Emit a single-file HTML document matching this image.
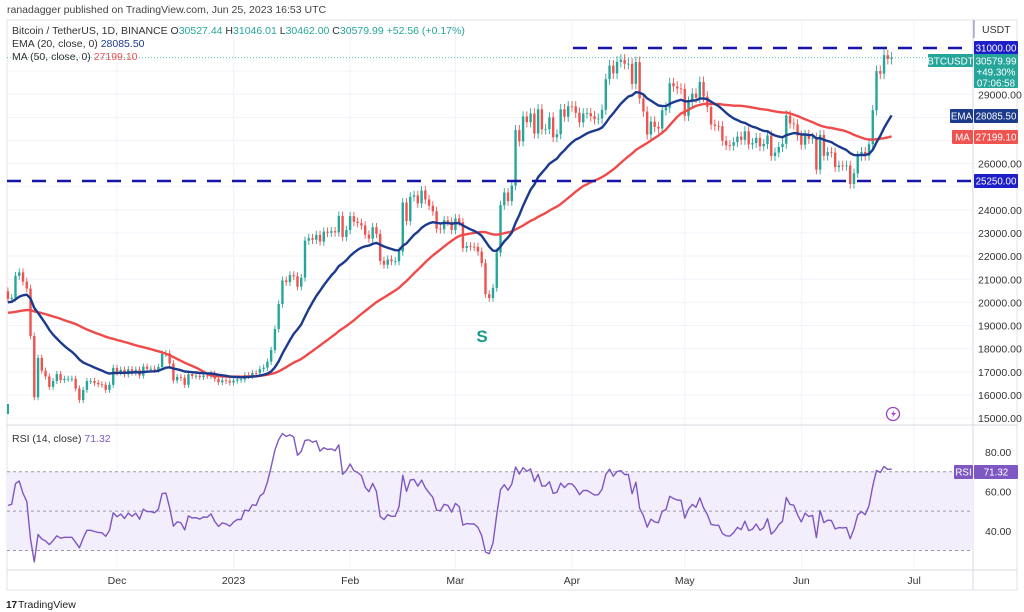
<!DOCTYPE html>
<html><head><meta charset="utf-8"><style>
html,body{margin:0;padding:0;background:#fff;width:1024px;height:612px;overflow:hidden;font-family:"Liberation Sans",sans-serif}
svg{position:absolute;left:0;top:0}
</style></head><body>
<svg id="c" width="1024" height="612" xmlns="http://www.w3.org/2000/svg"></svg>
<script>
const preCloses=[20230,19700,19800,20110,19420,19540,18880,18500,19400,18930,18800,18810,19220,19080,19410,19590,19430,
19310,19060,19630,20340,20160,19960,19530,19420,19450,19130,19060,19150,19380,19180,19070,19270,19550,19330,19120,19040,19160,19200,19570,19330,20090,20770,20290,20600,20810,20630,20490,20480];
const closes=[20150,20200,21150,21300,20900,20600,18550,15900,17600,17050,16800,16350,16600,16900,16650,16700,16700,16700,16280,15780,16220,16600,16600,16520,16460,16440,16220,16440,17170,
16980,17090,16890,17110,16970,17090,16840,17220,17130,17130,17090,17210,17780,17800,17360,16630,16780,16740,16440,16900,16820,16830,16780,16840,16830,16920,16700,16550,16630,16600,16540,
16620,16670,16670,16850,16830,16950,16940,17120,17180,17440,17940,18850,19930,20950,20880,21180,21130,20680,21070,22670,22780,22710,22920,22630,23060,23010,23080,23030,23740,22830,23130,
23730,23490,23430,23330,22930,22760,23250,22960,21800,21630,21860,21780,21780,22200,24320,23520,24570,24630,24280,24840,24450,24180,23940,23190,23160,23550,23490,23130,
23630,23470,22350,22430,22410,22400,22200,21700,20360,20190,20630,22160,24200,24750,24380,25050,27450,26960,28040,27790,28170,27300,28350,27480,27490,28000,27140,27270,28350,28030,28480,
28470,28200,27790,28170,28180,28050,27920,27950,28330,29650,30240,29900,30400,30490,30320,30320,29450,30390,28820,28250,27260,27820,27590,27520,28310,28420,29480,29340,29250,29230,
28070,28680,29030,28850,29530,28900,28450,27690,27630,27620,26990,26800,26780,26930,27170,27030,27400,26830,26890,27110,26750,26850,27220,26330,26480,26720,26860,28080,27740,27700,27210,
26820,27250,27070,27120,25740,27240,26340,26500,26480,25850,25920,25900,25920,25120,25580,26330,26510,26340,26840,28310,30000,29890,30690,30530,30580];
const priceTicks=[15000,16000,17000,18000,19000,20000,21000,22000,23000,24000,26000,29000];
const rsiTicks=[40,60,80];
const monthLabels=["Dec","2023","Feb","Mar","Apr","May","Jun","Jul"];
const monthDays=[29,60,91,119,150,180,211,241];

const NS="http://www.w3.org/2000/svg",svg=document.getElementById('c');
function el(t,a,p){const e=document.createElementNS(NS,t);for(const k in a)e.setAttribute(k,a[k]);(p||svg).appendChild(e);return e;}
function tx(s,x,y,a){const e=el('text',Object.assign({x:x,y:y,'font-size':11,fill:'#333','font-family':'Liberation Sans, sans-serif'},a||{}));e.textContent=s;return e;}
const X=i=>117+(i-29)*3.76;
const Y=p=>48+(31000-p)*0.02313;
const RY=r=>452+(80-r)*1.97;

let f=el('rect',{x:7,y:20,width:1010,height:570,fill:'none',stroke:'#e0e3eb'});

[15000,16000,17000,18000,19000,20000,21000,22000,23000,24000,25000,26000,27000,28000,29000,30000].forEach(p=>{const g=el('line',{x1:7,x2:973,y1:Y(p),y2:Y(p),stroke:'#f0f3fa'});});
monthDays.forEach(d=>{const g=el('line',{x1:X(d),x2:X(d),y1:20,y2:570,stroke:'#f0f3fa'});});
[['price-axis-border',973,20,973,590],['pane-divider',7,425,1017,425],['time-axis-border',7,570,1017,570]].forEach(l=>{const e=el('line',{x1:l[1],y1:l[2],x2:l[3],y2:l[4],stroke:'#d6d9e0'});});

let h=tx('ranadagger published on TradingView.com, Jun 25, 2023 16:53 UTC',7,13,{'font-size':10.5,fill:'#444'});


let band=el('rect',{x:7,y:RY(70),width:966,height:RY(30)-RY(70),fill:'#f3eefb'});

[70,50,30].forEach(v=>{const e=el('line',{x1:7,x2:973,y1:RY(v),y2:RY(v),stroke:'#9a9aa8','stroke-dasharray':'3,3'});});

const all=preCloses.concat(closes),off=preCloses.length;
const cg=el('g',{});
closes.forEach((c,i)=>{
  const o=all[off+i-1];const up=c>=o;const col=up?'#26a69a':'#ef5350';
  const hi=Math.max(o,c)*1.008,lo=Math.min(o,c)*0.992;const x=X(i);
  const w=el('line',{x1:x,x2:x,y1:Y(hi),y2:Y(lo),stroke:col,'stroke-width':0.9},cg);
  
  const b=el('rect',{x:x-1.2,y:Y(Math.max(o,c)),width:2.4,height:Math.max(0.8,Math.abs(Y(o)-Y(c))),fill:col},cg);
  
});

const k=2/21;let ema=all[0];const emaV=[],maV=[];
all.forEach((c,j)=>{ema=j==0?c:c*k+ema*(1-k);if(j>=off){emaV.push(ema);let s=0;for(let q=j-48;q<=j;q++)s+=all[Math.max(0,q)];maV.push(s/49);}});
function path(vals,fy,col,name,w){let d=vals.map((v,i)=>(i?'L':'M')+X(i).toFixed(1)+' '+fy(v).toFixed(1)).join(' ');const p=el('path',{d:d,fill:'none',stroke:col,'stroke-width':w,'stroke-linejoin':'round'});}
path(maV,Y,'#ef4b4b','ma50-line',2.4);
path(emaV,Y,'#1c3a8c','ema20-line',2.4);

let ag=0,al=0;const rsiV=[];
for(let j=1;j<all.length;j++){const d=all[j]-all[j-1];const g=Math.max(d,0),l=Math.max(-d,0);
 if(j<=14){ag+=g/14;al+=l/14;}else{ag=(ag*13+g)/14;al=(al*13+l)/14;}
 if(j>=off)rsiV.push(100-100/(1+ag/(al||1e-9)));}
path(rsiV,RY,'#7e57c2','rsi-line',1.4);

[[31000,573,'resistance-line-31000'],[25250,7,'support-line-25250']].forEach(l=>{const e=el('line',{x1:l[1],x2:973,y1:Y(l[0]),y2:Y(l[0]),stroke:'#1515a8','stroke-width':2.6,'stroke-dasharray':'14,11'});});
let lp=el('line',{x1:7,x2:973,y1:Y(30580),y2:Y(30580),stroke:'#26a69a','stroke-dasharray':'1,2','stroke-width':0.7});


priceTicks.forEach(p=>{const t=tx(p.toFixed(2),978,Y(p)+4,{'font-size':10.5});});
rsiTicks.forEach(r=>{const t=tx(r.toFixed(2),985,RY(r)+4,{'font-size':10.5});});
monthLabels.forEach((m,i)=>{const t=tx(m,X(monthDays[i]),584,{'font-size':10.5,'text-anchor':'middle'});});
let u=tx('USDT',982,33,{'font-size':10.5});
let ul=el('line',{x1:974,x2:974,y1:20,y2:38,stroke:'#8080c0'});

function tag(x,y,w,hh,bg,lines,name){const g=el('g',{});
 el('rect',{x:x,y:y,width:w,height:hh,fill:bg,rx:1},g);
 lines.forEach((s,i)=>{const t=tx(s,x+w/2,y+10.5+i*11,{'font-size':9.8,fill:'#fff','text-anchor':'middle'});g.appendChild(t);});}
tag(974,41,44,14,'#1e1ec8',['31000.00'],'price-tag-31000');
tag(928,54,45,13,'#26a69a',['BTCUSDT'],'symbol-tag');
tag(974,54,44,34,'#26a69a',['30579.99','+49.30%','07:06:58'],'last-price-tag');
tag(950,109,23,14,'#1c3a8c',['EMA'],'ema-tag-name');
tag(974,109,44,14,'#1c3a8c',['28085.50'],'ema-tag-value');
tag(952,130,21,14,'#ef5350',['MA'],'ma-tag-name');
tag(974,130,44,14,'#ef5350',['27199.10'],'ma-tag-value');
tag(974,174,44,14,'#1e1ec8',['25250.00'],'price-tag-25250');
tag(954,465,19,14,'#7e57c2',['RSI'],'rsi-tag-name');
tag(974,465,44,14,'#7e57c2',['71.32'],'rsi-tag-value');

function leg(parts,y,name){const t=el('text',{x:12,y:y,'font-size':10.5,'font-family':'Liberation Sans, sans-serif'});
 parts.forEach(p=>{const s=el('tspan',{fill:p[1]},t);s.textContent=p[0];});}
leg([['Bitcoin / TetherUS, 1D, BINANCE  ','#333'],['O','#333'],['30527.44  ','#26a69a'],['H','#333'],['31046.01  ','#26a69a'],['L','#333'],['30462.00  ','#26a69a'],['C','#333'],['30579.99  ','#26a69a'],['+52.56 (+0.17%)','#26a69a']],34,'symbol-legend');
leg([['EMA (20, close, 0)  ','#333'],['28085.50','#1c3a8c']],47,'ema-legend');
leg([['MA (50, close, 0)  ','#333'],['27199.10','#ef5350']],60,'ma-legend');
let rl=el('text',{x:12,y:442,'font-size':10.5,'font-family':'Liberation Sans, sans-serif'});
let r1=el('tspan',{fill:'#333'},rl);r1.textContent='RSI (14, close)  ';let r2=el('tspan',{fill:'#7e57c2'},rl);r2.textContent='71.32';

let S=tx('S',482,342,{'font-size':17,'font-weight':'bold',fill:'#1a9a8a','text-anchor':'middle'});
let li=el('g',{});
el('circle',{cx:893,cy:414,r:6.5,fill:'#fff',stroke:'#a040c0','stroke-width':1.3},li);
el('path',{d:'M894.5 410 L891 414.5 L893.5 414.5 L892 418 L896 413 L893.5 413 Z',fill:'#a040c0'},li);
let lm=el('rect',{x:7,y:404,width:2,height:10,fill:'#26a69a'});
let lg=tx('TradingView',18,608,{'font-size':10.5,fill:'#222'});
let lgi=tx('17',6,608,{'font-size':10,'font-weight':'bold',fill:'#222'});
</script>
</body></html>
